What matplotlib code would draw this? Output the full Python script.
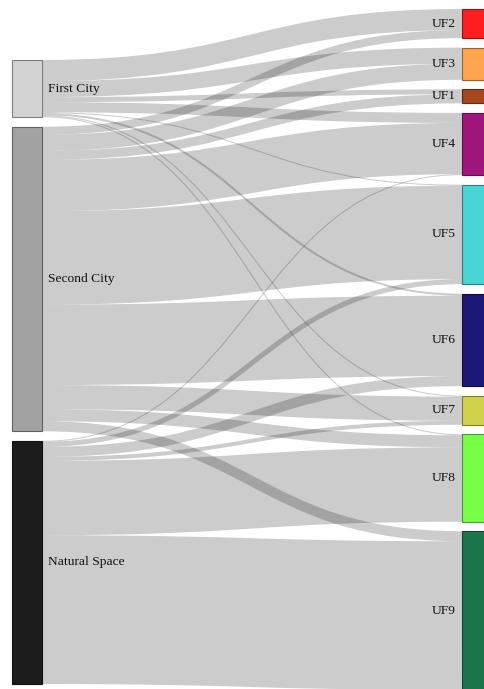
import numpy as np
import matplotlib.pyplot as plt
from matplotlib.path import Path
from matplotlib.patches import PathPatch, Rectangle

sources = ['First City', 'Second City', 'Natural Space']
targets = ['UF2', 'UF3', 'UF1', 'UF4', 'UF5', 'UF6', 'UF7', 'UF8', 'UF9']

# flow from each source to each target (same order as targets)
first_city = [21, 16, 5, 10, 1, 2, 1, 1, 0]
second_city = [8, 16, 9, 51, 93, 80, 24, 12, 10]
natural_space = [0, 0, 0, 1, 5, 10, 4, 74, 148]

source_colors = ['#d3d3d3', '#a2a2a2', '#1c1c1c']
target_colors = ['#fe1e1e', '#ffa54f', '#a5461c', '#a0177b', '#47d4d4',
                 '#1b1877', '#d1d24a', '#77ff47', '#1b774b']

flows = np.array([first_city, second_city, natural_space], dtype=float)

W, H = 485, 689
fig = plt.figure(figsize=(W / 100, H / 100), dpi=100)
ax = fig.add_axes([0, 0, 1, 1])
ax.set_xlim(0, W)
ax.set_ylim(H, 0)
ax.axis('off')

pad = 9.5
top, bottom = 9, 690
ky = (bottom - top - pad * (len(targets) - 1)) / flows.sum()

# right column stacked from the top
t_h = flows.sum(axis=0) * ky
t_y0 = top + np.concatenate([[0], np.cumsum(t_h + pad)[:-1]])
# left column pushed down to the bottom
s_h = flows.sum(axis=1) * ky
left_bottom = 684
s_start = left_bottom - (s_h.sum() + pad * (len(sources) - 1))
s_y0 = s_start + np.concatenate([[0], np.cumsum(s_h + pad)[:-1]])

lx0, lx1 = 12, 42
rx0, rx1 = 462, 492
xm = (lx1 + rx0) / 2

s_off = s_y0.copy()
t_off = t_y0.copy()
for i in range(len(sources)):
    for j in range(len(targets)):
        w = flows[i, j] * ky
        if w <= 0:
            continue
        ys = s_off[i] + w / 2
        yt = t_off[j] + w / 2
        s_off[i] += w
        t_off[j] += w
        p = Path([(lx1, ys), (xm, ys), (xm, yt), (rx0, yt)],
                 [Path.MOVETO, Path.CURVE4, Path.CURVE4, Path.CURVE4])
        ax.add_patch(PathPatch(p, fill=False, edgecolor=(0, 0, 0, 0.2),
                               lw=w * 0.72, capstyle='butt', zorder=1))


def darker(c, f=0.55):
    r, g, b = [int(c[k:k + 2], 16) / 255 for k in (1, 3, 5)]
    return (r * f, g * f, b * f)


font = dict(family='Liberation Serif', fontsize=9.7, color='#111111')

for i, name in enumerate(sources):
    ax.add_patch(Rectangle((lx0, s_y0[i]), lx1 - lx0, s_h[i], facecolor=source_colors[i],
                           edgecolor=darker(source_colors[i], 0.6), lw=0.8, zorder=2))
    ax.text(lx1 + 6, s_y0[i] + s_h[i] / 2, name, ha='left', va='center', zorder=3, **font)

for j, name in enumerate(targets):
    ax.add_patch(Rectangle((rx0, t_y0[j]), rx1 - rx0, t_h[j], facecolor=target_colors[j],
                           edgecolor=darker(target_colors[j], 0.6), lw=0.8, zorder=2))
    ax.text(rx0 - 6, t_y0[j] + t_h[j] / 2, name, ha='right', va='center', zorder=3, **font)

fig.savefig('out.png', dpi=100)
